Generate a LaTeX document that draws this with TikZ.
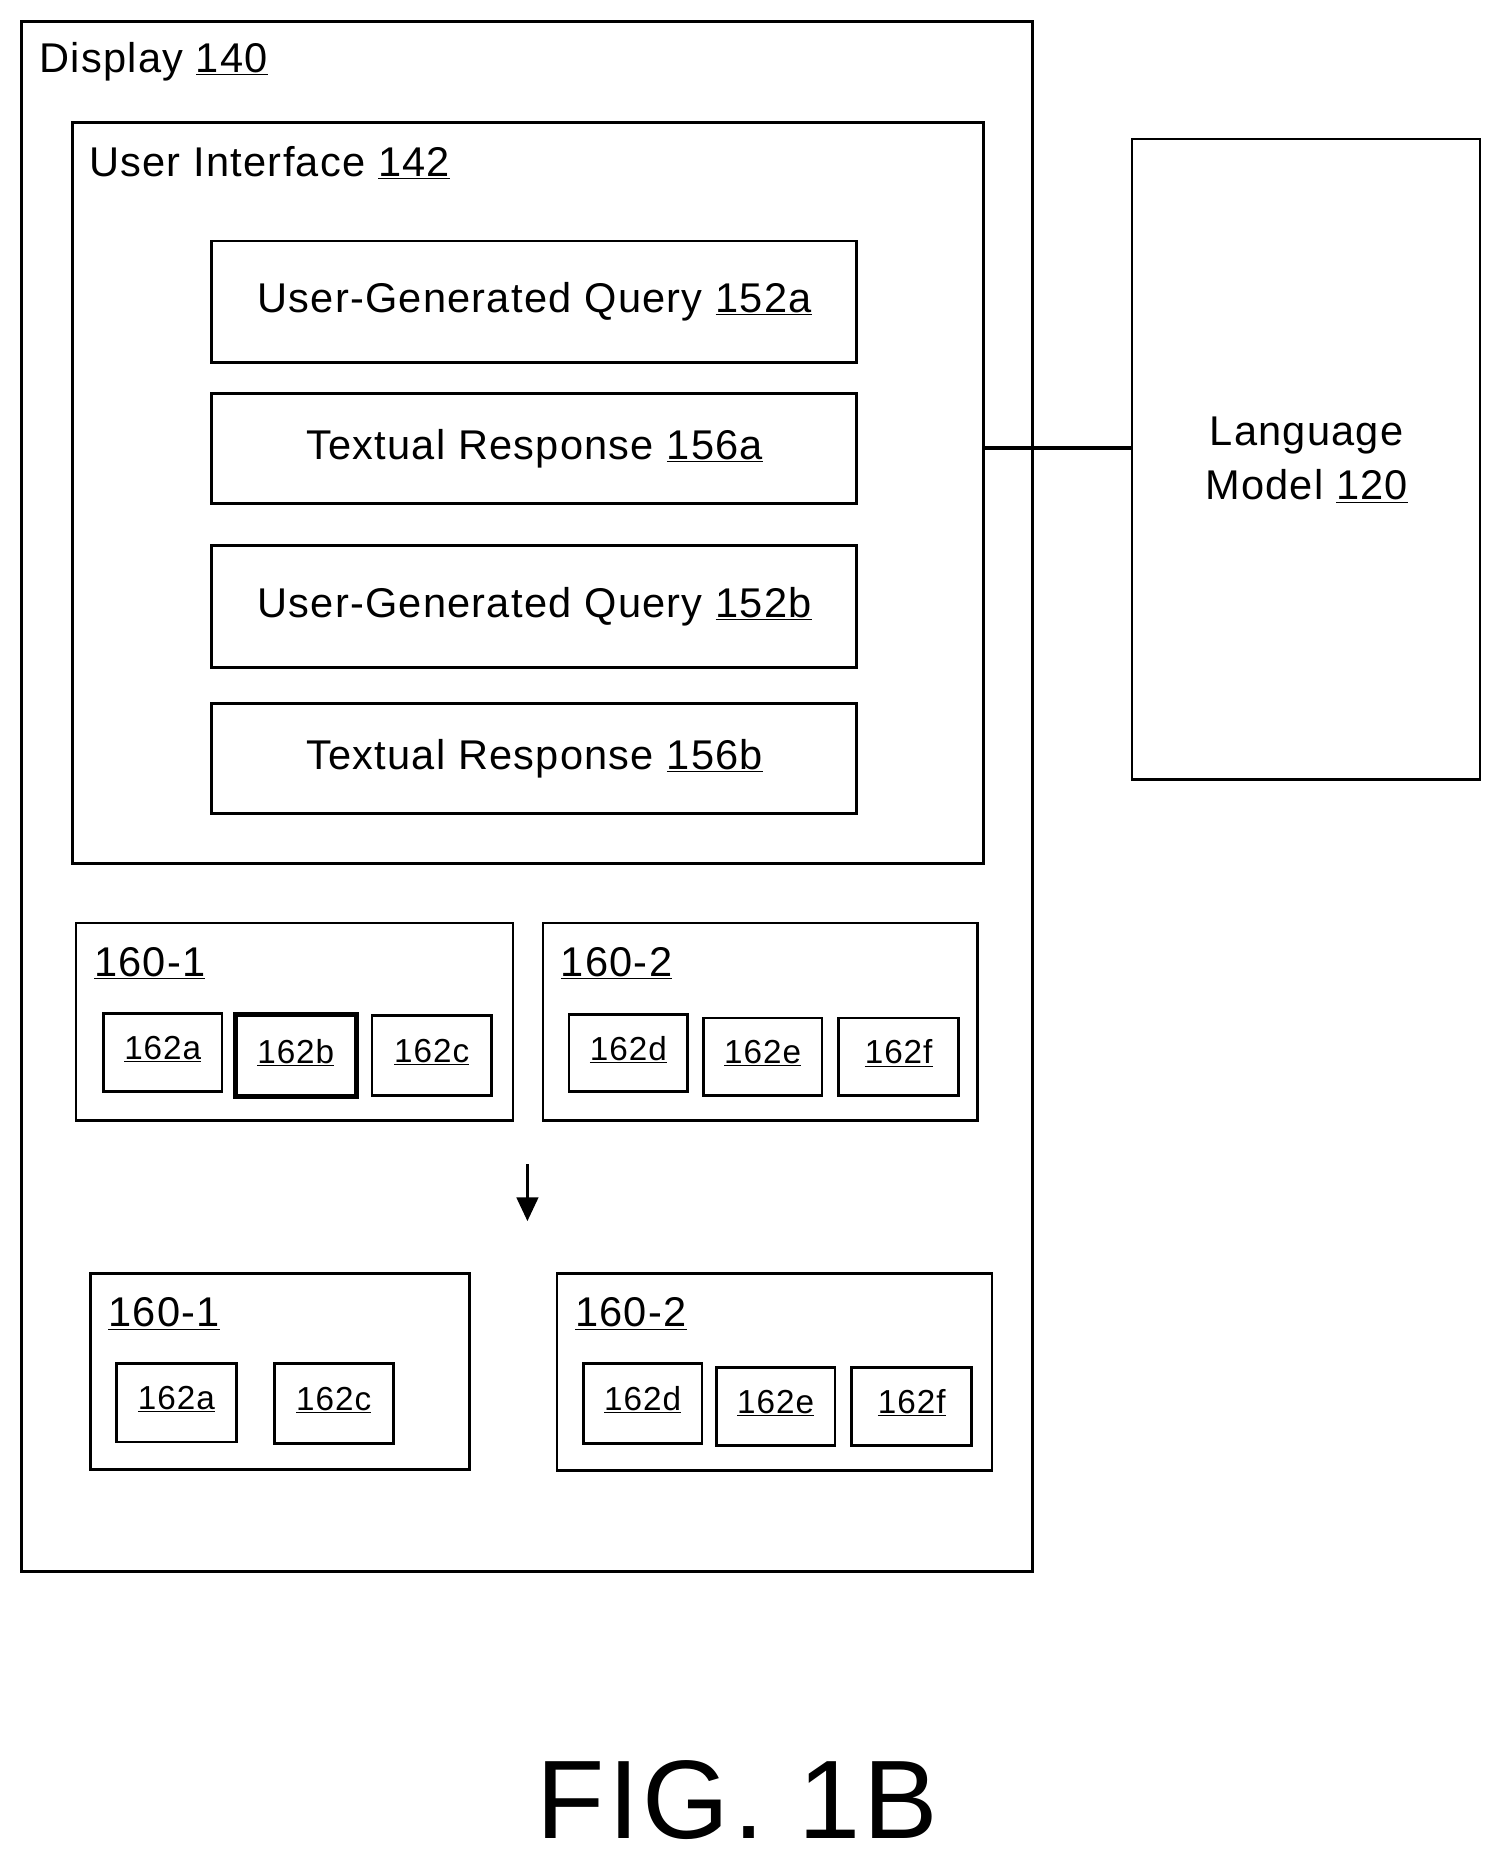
\documentclass[tikz,border=0pt]{standalone}
\usepackage{fontspec}
\setmainfont{Liberation Sans}[LetterSpace=3]
\usetikzlibrary{arrows.meta}
\begin{document}
\begin{tikzpicture}[x=1pt,y=-1pt,
  bx/.style={draw,line width=2.2pt},
  lbl/.style={anchor=west,font=\fontsize{35}{40}\selectfont,inner sep=0},
  sm/.style={font=\fontsize{28}{32}\selectfont,inner sep=0}]
\path[use as bounding box] (0,0) rectangle (1265,1570);
\draw[bx] (18,18) rectangle (869,1323);
\node[lbl] (d) at (33,52) {Display \underline{140}};
\draw[bx] (61,103) rectangle (828,727);
\node[lbl] (ui) at (75,137) {User Interface \underline{142}};
\foreach \n/\a/\b/\t in {q1/203/305/{User-Generated Query \underline{152a}},r1/331/424/{Textual Response \underline{156a}},q2/459/562/{User-Generated Query \underline{152b}},r2/592/685/{Textual Response \underline{156b}}}{
 \draw[bx] (178,\a) rectangle (721,\b);
 \node[font=\fontsize{35}{40}\selectfont] (\n) at (450,{(\a+\b)/2}) {\t};}
\draw[bx] (953,117) rectangle (1246,656);
\node[font=\fontsize{35}{46}\selectfont,align=center] (lm) at (1100,387) {Language\\Model \underline{120}};
\coordinate (c1) at (828,377); \coordinate (c2) at (953,377);
\draw[line width=3.5pt] (c1) -- (c2);
\draw[bx] (64,777) rectangle (432,943);
\node[lbl] (g1) at (79,811) {\underline{160-1}};
\draw[bx] (457,777) rectangle (823,943);
\node[lbl] (g2) at (472,811) {\underline{160-2}};
\foreach \n/\x/\y/\X/\Y/\t in {a/87/853/187/919/162a,c/313/855/414/922/162c,d/479/854/579/919/162d,e/592/857/692/922/162e,f/706/857/807/922/162f}{
 \draw[bx] (\x,\y) rectangle (\X,\Y);
 \node[sm] (t\n) at ({(\x+\X)/2},{(\y+\Y)/2-3}) {\underline{\t}};}
\draw[line width=4pt] (198,854) rectangle (300,923);
\node[sm] (tb) at (249,886) {\underline{162b}};
\coordinate (a1) at (444,980); \coordinate (a2) at (444,1028);
\draw[line width=2.8pt,-{Triangle[length=20pt,width=18pt]}] (a1) -- (a2);
\draw[bx] (76,1072) rectangle (395,1237);
\node[lbl] (h1) at (91,1106) {\underline{160-1}};
\draw[bx] (469,1072) rectangle (835,1238);
\node[lbl] (h2) at (484,1106) {\underline{160-2}};
\foreach \n/\x/\y/\X/\Y/\t in {a/98/1148/199/1214/162a,c/231/1148/331/1215/162c,d/491/1148/591/1215/162d,e/603/1151/703/1217/162e,f/717/1151/818/1217/162f}{
 \draw[bx] (\x,\y) rectangle (\X,\Y);
 \node[sm] (u\n) at ({(\x+\X)/2},{(\y+\Y)/2-3}) {\underline{\t}};}
\node[font=\fontsize{94}{100}\selectfont] (fig) at (621,1515) {FIG. 1B};
\end{tikzpicture}
\end{document}
